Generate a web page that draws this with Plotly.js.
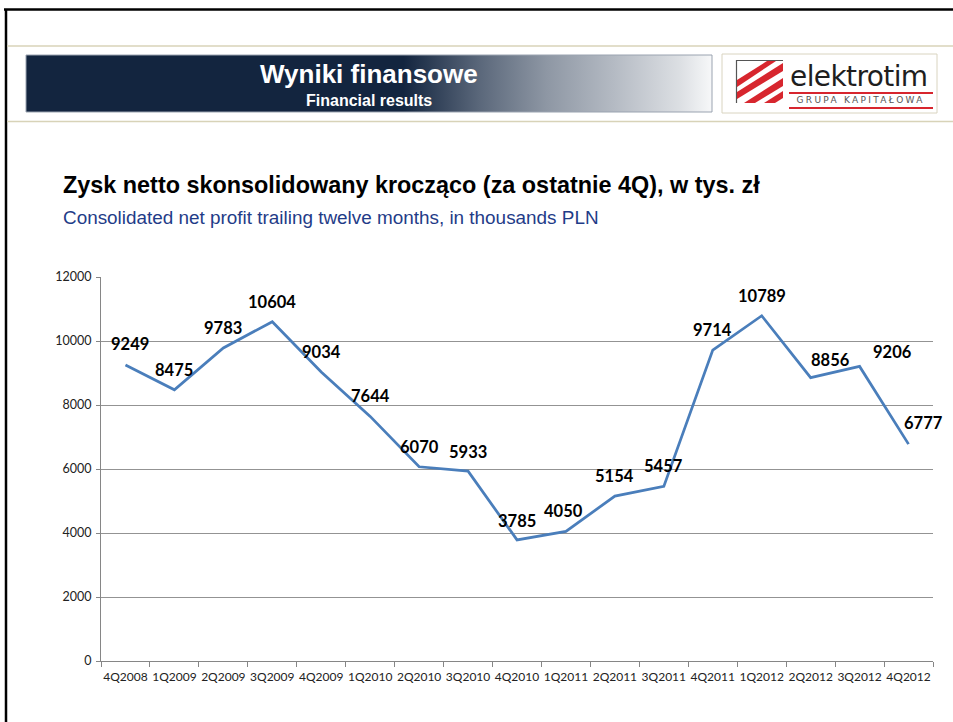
<!DOCTYPE html>
<html>
<head>
<meta charset="utf-8">
<script src="https://cdn.plot.ly/plotly-3.0.1.min.js"></script>
<style>
html,body{margin:0;padding:0;background:#fff;overflow:hidden;}
#chart{width:953px;height:722px;}
</style>
</head>
<body>
<div id="chart"></div>
<script>
// ---- data ----
const categories = ["4Q2008","1Q2009","2Q2009","3Q2009","4Q2009","1Q2010","2Q2010","3Q2010","4Q2010","1Q2011","2Q2011","3Q2011","4Q2011","1Q2012","2Q2012","3Q2012","4Q2012"];
const profitValues = [9249,8475,9783,10604,9034,7644,6070,5933,3785,4050,5154,5457,9714,10789,8856,9206,6777];
const yTickValues = [0,2000,4000,6000,8000,10000,12000];

const headerTitle = "Wyniki finansowe";
const headerSubtitle = "Financial results";
const chartTitle = "Zysk netto skonsolidowany krocząco (za ostatnie 4Q), w tys. zł";
const chartSubtitle = "Consolidated net profit trailing twelve months, in thousands PLN";
const logoName = "elektrotim";
const logoTagline = "GRUPA KAPITAŁOWA";

// label offsets (pixels) – styling only
const labelDx = [5,0,0,0,0,0,0,0,0,-2,0,0,0,0,20,33,15];
const labelDy = [21,20,20,20,20,20,20,19,19,20,20,20,20,20,18,14,21];

// ---- geometry helpers (pixel -> paper) ----
const PL = 101, PR = 933, PT = 277, PB = 661;
const X = px => (px - PL) / (PR - PL);
const Y = py => (PB - py) / (PB - PT);

const trace = {
  x: categories,
  y: profitValues,
  type: 'scatter',
  mode: 'lines',
  line: {color: '#4A7EBB', width: 2.75},
  hoverinfo: 'x+y'
};

const annotations = profitValues.map((v, i) => ({
  x: categories[i], y: v, xref: 'x', yref: 'y',
  text: String(v), showarrow: false,
  xanchor: 'center', yanchor: 'middle',
  xshift: labelDx[i], yshift: labelDy[i],
  font: {family: 'Lato, "Liberation Sans", sans-serif', size: 16.5, color: '#000', weight: 'bold'}
}));

annotations.push(
  {xref:'paper', yref:'paper', x:X(369), y:Y(74), text:'<b>'+headerTitle+'</b>', showarrow:false, xanchor:'center', yanchor:'middle',
   font:{family:'"Liberation Sans", Arial, sans-serif', size:26, color:'#ffffff'}},
  {xref:'paper', yref:'paper', x:X(369), y:Y(100), text:'<b>'+headerSubtitle+'</b>', showarrow:false, xanchor:'center', yanchor:'middle',
   font:{family:'"Liberation Sans", Arial, sans-serif', size:16, color:'#ffffff'}},
  {xref:'paper', yref:'paper', x:X(61), y:Y(185), text:'<b>'+chartTitle+'</b>', showarrow:false, xanchor:'left', yanchor:'middle',
   font:{family:'"Liberation Sans", Arial, sans-serif', size:23.4, color:'#000000'}},
  {xref:'paper', yref:'paper', x:X(61), y:Y(217), text:chartSubtitle, showarrow:false, xanchor:'left', yanchor:'middle',
   font:{family:'"Liberation Sans", Arial, sans-serif', size:18.9, color:'#1F3C88'}},
  {xref:'paper', yref:'paper', x:X(859), y:Y(76), text:logoName, showarrow:false, xanchor:'center', yanchor:'middle',
   font:{family:'"DejaVu Sans", sans-serif', size:28, color:'#1e1e1e'}},
  {xref:'paper', yref:'paper', x:X(861), y:Y(100.5), text:logoTagline, showarrow:false, xanchor:'center', yanchor:'middle',
   font:{family:'"DejaVu Sans", sans-serif', size:9, color:'#555555'}}
);

function rect(x0,y0,x1,y1,fill,lineColor,lw){
  return {type:'rect', xref:'paper', yref:'paper', x0:X(x0), x1:X(x1), y0:Y(y0), y1:Y(y1),
    fillcolor:fill||'rgba(0,0,0,0)', line:{color:lineColor||'rgba(0,0,0,0)', width:lw||0}, layer:'above'};
}
function line(x0,y0,x1,y1,color,w){
  return {type:'line', xref:'paper', yref:'paper', x0:X(x0), x1:X(x1), y0:Y(y0), y1:Y(y1),
    line:{color:color, width:w}, layer:'above'};
}
function poly(pts,fill){
  const d = pts.map((p,i)=>(i?'L':'M')+X(p[0])+','+Y(p[1])).join(' ')+' Z';
  return {type:'path', xref:'paper', yref:'paper', path:d, fillcolor:fill, line:{width:0}, layer:'above'};
}

const shapes = [
  // slide border
  line(4,9.5,960,9.5,'#000000',2.5),
  line(6,9,6,730,'#000000',2.5),
  // keep right edge clean
  rect(938,11,960,45,'#ffffff',null,0),
  // beige separator lines
  line(7,46,960,46,'#D8D3B8',1.5),
  line(7,121.5,960,121.5,'#D8D3B8',1.5),
  // banner outline
  rect(26,55,712,112,null,'#9aa3b0',1),
  // logo box
  rect(722,54,937,113,'#ffffff','#D9D4C0',1),
  // icon box
  rect(736,60,783,103,'#ffffff',null,0),
  line(736.5,60,736.5,103,'#555555',1.2),
  line(736,60.5,783,60.5,'#555555',1.2),
  poly([[737,80],[767,61],[776,61],[737,87]],'#D7262E'),
  poly([[737,92],[783,63],[783,71],[737,99]],'#D7262E'),
  poly([[744,103],[783,78],[783,86],[755,103]],'#D7262E'),
  poly([[764,103],[783,91],[783,98],[775,103]],'#D7262E'),
  // logo red lines
  line(789,93,933,93,'#D7262E',2),
  line(789,108,933,108,'#D7262E',2)
];

const gradSvg = "<svg xmlns='http://www.w3.org/2000/svg' width='686' height='57' viewBox='0 0 686 57' preserveAspectRatio='none'>"+
 "<defs><linearGradient id='g' x1='0' x2='1' y1='0' y2='0'>"+
 "<stop offset='0' stop-color='#13253f'/>"+
 "<stop offset='0.55' stop-color='#13253f'/>"+
 "<stop offset='0.662' stop-color='#5b687b'/>"+
 "<stop offset='0.759' stop-color='#8e97a4'/>"+
 "<stop offset='0.856' stop-color='#b4bac3'/>"+
 "<stop offset='0.953' stop-color='#dcdfe3'/>"+
 "<stop offset='1' stop-color='#f7f8f9'/>"+
 "</linearGradient></defs><rect width='686' height='57' fill='url(#g)'/></svg>";

const images = [{
  source: 'data:image/svg+xml;charset=utf-8,' + encodeURIComponent(gradSvg),
  xref:'paper', yref:'paper', x:X(26), y:Y(55), sizex:(712-26)/(PR-PL), sizey:(112-55)/(PB-PT),
  xanchor:'left', yanchor:'top', sizing:'stretch', layer:'above'
}];

const layout = {
  width: 953, height: 722,
  margin: {l: PL, r: 953-PR, t: PT, b: 722-PB, pad: 0},
  paper_bgcolor: '#ffffff', plot_bgcolor: 'rgba(0,0,0,0)',
  showlegend: false,
  xaxis: {
    type: 'category', range: [-0.5, categories.length - 0.5],
    showgrid: false, showline: true, linecolor: '#868686', linewidth: 1,
    ticks: 'outside', tickson: 'boundaries', ticklen: 5, tickcolor: '#868686',
    tickangle: 0, ticklabelstandoff: 5,
    tickfont: {family: 'Lato, "Liberation Sans", sans-serif', size: 12, color: '#222222'},
    fixedrange: true, zeroline: false
  },
  yaxis: {
    range: [0, 12000], tickvals: yTickValues, ticktext: yTickValues.map(String),
    showgrid: true, gridcolor: '#939393', gridwidth: 1,
    showline: true, linecolor: '#868686', linewidth: 1,
    ticks: 'outside', ticklen: 4, tickcolor: '#868686', ticklabelstandoff: 2,
    tickfont: {family: 'Lato, "Liberation Sans", sans-serif', size: 12.5, color: '#222222'},
    zeroline: false, fixedrange: true
  },
  annotations: annotations,
  shapes: shapes,
  images: images
};

Plotly.newPlot('chart', [trace], layout, {displayModeBar: false, staticPlot: true}).then(() => {
  document.querySelectorAll('#chart text.annotation-text').forEach(t => {
    if (t.textContent === logoTagline) t.style.letterSpacing = '2.3px';
    if (t.textContent === logoName) t.style.letterSpacing = '-0.6px';
  });
});
</script>
</body>
</html>
